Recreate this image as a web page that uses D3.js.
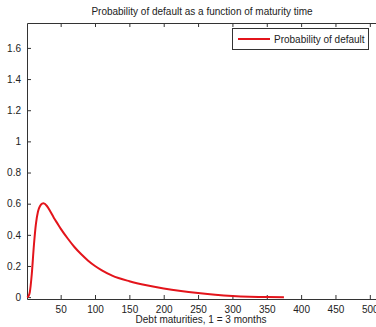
<!DOCTYPE html>
<html>
<head>
<meta charset="utf-8">
<script src="https://cdn.jsdelivr.net/npm/d3@7"></script>
<style>
  body { margin: 0; background: #fff; }
  svg { display: block; font-family: "Liberation Sans", Arial, sans-serif; }
  .tick text { fill: #222; font-size: 10px; }
</style>
</head>
<body>
<div id="chart"></div>
<script>
// Data
const maturities = [1, 3, 5, 8, 11, 14, 17, 20, 23, 25, 30, 35, 40, 45, 50, 60, 70, 80, 90, 100, 110, 125, 150, 175, 200, 225, 250, 275, 300, 325, 350, 375];
const pDefault   = [0, 0.005, 0.03, 0.15, 0.33, 0.47, 0.55, 0.585, 0.6, 0.602, 0.585, 0.55, 0.51, 0.475, 0.44, 0.378, 0.322, 0.275, 0.234, 0.2, 0.172, 0.138, 0.102, 0.076, 0.056, 0.04, 0.027, 0.016, 0.008, 0.003, 0.0005, 0];
const xTicks = [50, 100, 150, 200, 250, 300, 350, 400, 450, 500];
const yTicks = [0, 0.2, 0.4, 0.6, 0.8, 1, 1.2, 1.4, 1.6];
const seriesName = "Probability of default";

const W = 376, H = 327;
const box = {left: 27, top: 23, right: 376, bottom: 299};

const x = d3.scaleLinear().domain([1, 509]).range([box.left, box.right]);
const y = d3.scaleLinear().domain([-0.012, 1.76]).range([box.bottom, box.top]);

const svg = d3.select("#chart").append("svg")
    .attr("width", W).attr("height", H);

// axes frame with inward ticks
svg.append("g")
    .attr("transform", `translate(0,${box.bottom})`)
    .call(d3.axisBottom(x).tickValues(xTicks).tickSizeInner(-4).tickSizeOuter(0).tickPadding(7))
    .call(g => g.select(".domain").attr("stroke", "#333"));

svg.append("g")
    .attr("transform", `translate(0,${box.top})`)
    .call(d3.axisTop(x).tickValues(xTicks).tickSizeInner(-4).tickSizeOuter(0).tickFormat(""))
    .call(g => g.select(".domain").attr("stroke", "#333"));

svg.append("g")
    .attr("transform", `translate(${box.left},0)`)
    .call(d3.axisLeft(y).tickValues(yTicks).tickSizeInner(-4).tickSizeOuter(0).tickPadding(6).tickFormat(d3.format("~g")))
    .call(g => g.select(".domain").attr("stroke", "#333"));

svg.selectAll(".tick line").attr("stroke", "#333");

// curve
const line = d3.line()
    .x((d, i) => x(maturities[i]))
    .y(d => y(d))
    .curve(d3.curveMonotoneX);

svg.append("path")
    .datum(pDefault)
    .attr("d", line)
    .attr("fill", "none")
    .attr("stroke", "#e3141b")
    .attr("stroke-width", 2);

// title and label
svg.append("text")
    .attr("x", 202).attr("y", 15)
    .attr("text-anchor", "middle")
    .style("font-size", "10px").style("fill", "#222")
    .text("Probability of default as a function of maturity time");

svg.append("text")
    .attr("x", 201).attr("y", 323)
    .attr("text-anchor", "middle")
    .style("font-size", "10px").style("fill", "#222")
    .text("Debt maturities, 1 = 3 months");

// legend
const legend = svg.append("g").attr("transform", "translate(232,28)");
legend.append("rect")
    .attr("x", 0.5).attr("y", 0.5)
    .attr("width", 136).attr("height", 21)
    .attr("fill", "#fff").attr("stroke", "#333");
legend.append("line")
    .attr("x1", 6).attr("x2", 38).attr("y1", 11).attr("y2", 11)
    .attr("stroke", "#e3141b").attr("stroke-width", 2);
legend.append("text")
    .attr("x", 42).attr("y", 11).attr("dy", "0.35em")
    .style("font-size", "10px").style("fill", "#222")
    .text(seriesName);
</script>
</body>
</html>
